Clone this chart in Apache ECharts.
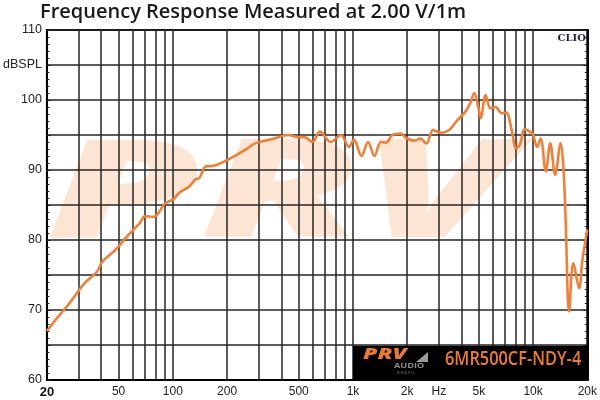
<!DOCTYPE html>
<html><head><meta charset="utf-8">
<script src="https://cdn.jsdelivr.net/npm/echarts@6/dist/echarts.min.js"></script>
<style>html,body{margin:0;padding:0;background:#fff}#c{width:600px;height:400px}</style>
</head><body><div id="c"></div>
<script>
const freqHz = [20, 23, 26, 29.3, 32.3, 38, 40.6, 48, 55.6, 65.5, 70, 78.3, 90.4, 100.5, 109, 123, 134, 140, 152, 169, 196, 224, 253, 286, 354, 437, 494, 537, 596, 656, 751, 857, 950, 1012, 1116, 1212, 1316, 1429, 1521, 1654, 1835, 1994, 2210, 2355, 2560, 2780, 3085, 3420, 3790, 4200, 4470, 4720, 4960, 5120, 5450, 5800, 6180, 6700, 7100, 7600, 8060, 8450, 8960, 9560, 9940, 10530, 11010, 11760, 12450, 13260, 14210, 14720, 15160, 15830, 16740, 18000, 18780, 20000];
const splDb = [67.0, 69.0, 70.6, 72.4, 73.8, 75.5, 76.9, 78.6, 80.5, 82.4, 83.4, 83.3, 85.2, 85.8, 86.8, 87.6, 88.7, 88.8, 90.5, 90.6, 91.3, 92.1, 92.9, 93.8, 94.4, 95.0, 94.7, 94.7, 94.0, 95.5, 94.0, 95.0, 93.3, 94.3, 92.0, 94.0, 92.0, 94.0, 93.9, 95.0, 95.2, 94.5, 94.2, 94.5, 93.8, 95.7, 95.3, 95.7, 97.1, 98.3, 99.5, 101.0, 99.0, 97.4, 100.7, 98.8, 99.0, 98.1, 98.2, 95.7, 93.1, 93.6, 95.8, 95.5, 95.2, 93.3, 94.5, 89.8, 93.8, 89.3, 93.8, 90.5, 82.9, 69.8, 76.7, 73.1, 77.1, 81.5];
const gridFreqs = [20,30,40,50,60,70,80,90,100,200,300,400,500,600,700,800,900,1000,2000,3000,4000,5000,6000,7000,8000,9000,10000,20000];
const xLabelFreqs = [20,50,100,200,500,1000,2000,3000,5000,10000,20000];
const xLabelText = {20:'20',50:'50',100:'100',200:'200',500:'500',1000:'1k',2000:'2k',3000:'Hz',5000:'5k',10000:'10k',20000:'20k'};
const yLabelValues = [60,70,80,90,100,105,110];
const yUnit = 'dBSPL';
const titleText = 'Frequency Response Measured at 2.00 V/1m';
const modelText = '6MR500CF-NDY-4';

const chart = echarts.init(document.getElementById('c'), null, {renderer:'canvas'});
const data = freqHz.map((f,i)=>[f, splDb[i]]);
const gridLine = {show:true, lineStyle:{color:'#262626', width:1.5}};
const yAxisBase = {
  type:'value', min:60, max:110, interval:5,
  axisLine:{show:true, lineStyle:{color:'#000', width:2}},
  axisTick:{show:true, inside:true, length:4, lineStyle:{color:'#222'}},
  minorTick:{show:true, splitNumber:5, length:2.5, lineStyle:{color:'#222'}},
  splitLine:gridLine
};
chart.setOption({
  animation:false,
  backgroundColor:'#fff',
  title:{text:titleText, left:35, top:-3, textStyle:{fontFamily:'Open Sans', fontWeight:600, fontSize:20, color:'#1a1a1a'}},
  grid:{left:42, right:10, top:30, bottom:20, show:true, borderColor:'#000', borderWidth:2, backgroundColor:'transparent'},
  xAxis:{
    type:'log', logBase:10, min:20, max:20000,
    axisLine:{show:true, lineStyle:{color:'#000', width:2}},
    axisTick:{show:false, customValues:gridFreqs},
    splitLine:gridLine,
    axisLabel:{show:true, customValues:xLabelFreqs, showMinLabel:true, showMaxLabel:true, margin:6,
      fontFamily:'Liberation Sans', fontSize:12, color:'#222',
      formatter:(v)=> v===20 ? '{b|20}' : (xLabelText[Math.round(v)] || ''),
      rich:{b:{fontWeight:'bold', fontSize:13, fontFamily:'Liberation Sans', color:'#111'}}}
  },
  yAxis:[
    Object.assign({}, yAxisBase, {position:'left',
      axisLabel:{customValues:yLabelValues, fontFamily:'Liberation Sans', fontSize:12.5, color:'#222', margin:5,
        formatter:(v)=> v===105 ? yUnit : String(v)}}),
    Object.assign({}, yAxisBase, {position:'right', axisLabel:{show:false}, splitLine:{show:false}})
  ],
  graphic:[
    {type:'text', z:-10, x:46, y:130, scaleX:1.82, style:{text:'PRV', font:'italic 900 136px "Open Sans"', fill:'#fde5d4'}},
    {type:'text', right:14, top:33, style:{text:'CLIO', font:'bold 10px "DejaVu Serif"', fill:'#1c2340'}},
    {type:'text', x:363, y:347, z:100, scaleX:1.55, style:{text:'PRV', font:'italic 900 15px "Open Sans"', fill:'#ee7a2e'}},
    {type:'polygon', z:100, shape:{points:[[416,362],[428,362],[428,352]]}, style:{fill:'#9a9a9a'}},
    {type:'text', x:394, y:362, z:100, scaleX:1.3, style:{text:'AUDIO', font:'bold 7px "Open Sans"', fill:'#8a8a8a'}},
    {type:'text', x:397, y:371, z:100, style:{text:'B R A S I L', font:'4px "Open Sans"', fill:'#777'}},
    {type:'text', x:445, y:350, z:100, scaleX:0.86, style:{text:modelText, font:'600 19px "Open Sans"', fill:'#ee7a2e'}}
  ],
  series:[{
    type:'line', data:data, smooth:0.35, showSymbol:false, xAxisIndex:0, yAxisIndex:0,
    lineStyle:{color:'#f57e32', width:2.6},
    markArea:{silent:true, itemStyle:{color:'#000'}, data:[[{coord:[1000,60]},{coord:[20000,64.9]}]]}
  }]
});
</script></body></html>
